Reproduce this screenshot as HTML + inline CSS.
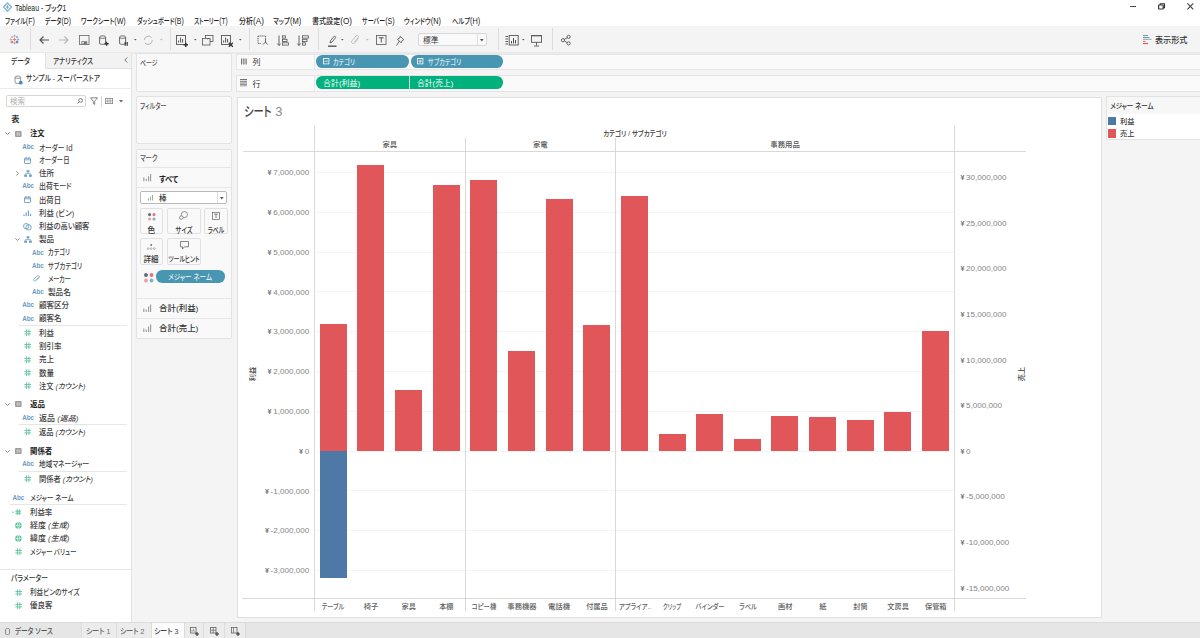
<!DOCTYPE html>
<html lang="ja"><head><meta charset="utf-8"><title>Tableau - ブック1</title>
<style>
html,body{margin:0;padding:0;}
body{width:1200px;height:638px;overflow:hidden;position:relative;background:#f4f4f4;font-family:"Liberation Sans", "Noto Sans CJK JP", sans-serif;font-feature-settings:"palt";}
.t{position:absolute;white-space:nowrap;}
svg{overflow:visible;}
</style></head><body>

<div style="position:absolute;left:0px;top:0px;width:1200px;height:26px;background:#ffffff;"></div>
<svg style="position:absolute;left:2px;top:2.2px;" width="10" height="10" viewBox="0 0 10 10"><path d="M0.5 9.6H9.5" stroke="#d0d8de" stroke-width="0.6"/><path d="M5.5 1L9.5 5L5.5 9L1.5 5Z" fill="none" stroke="#7fb2cc" stroke-width="1.3" stroke-linejoin="round"/><path d="M3.8 5H7.2M5.5 3.3V6.7" stroke="#6fa8c6" stroke-width="1"/></svg>
<div class="t" style="left:14.6px;top:3.07px;font-size:8.2px;line-height:11.48px;color:#222;font-weight:500;transform:scaleX(0.836);transform-origin:left center;">Tableau - ブック1</div>
<div style="position:absolute;left:1129.6px;top:6px;width:6.5px;height:1.2px;background:#444;"></div>
<svg style="position:absolute;left:1157.8px;top:3.2px;" width="7.2" height="6.6" viewBox="0 0 7.2 6.6"><rect x="0.6" y="2" width="4.6" height="4" rx="0.6" fill="none" stroke="#333" stroke-width="1.2"/><path d="M2.2 2V0.7H6.5V4.6H5.2" fill="none" stroke="#333" stroke-width="1.1"/></svg>
<svg style="position:absolute;left:1186.7px;top:3px;" width="6.7" height="6.7" viewBox="0 0 6.7 6.7"><path d="M0.4 0.4L6.3 6.3M6.3 0.4L0.4 6.3" stroke="#444" stroke-width="1.15"/></svg>
<div class="t" style="left:5.2px;top:15.98px;font-size:8px;line-height:11.2px;color:#222;font-weight:500;transform:scaleX(0.7526);transform-origin:left center;">ファイル<span style="font-size:9.3px">(F)</span></div>
<div class="t" style="left:45.4px;top:15.98px;font-size:8px;line-height:11.2px;color:#222;font-weight:500;transform:scaleX(0.7341);transform-origin:left center;">データ<span style="font-size:9.3px">(D)</span></div>
<div class="t" style="left:81.3px;top:15.98px;font-size:8px;line-height:11.2px;color:#222;font-weight:500;transform:scaleX(0.7629);transform-origin:left center;">ワークシート<span style="font-size:9.3px">(W)</span></div>
<div class="t" style="left:136.5px;top:15.98px;font-size:8px;line-height:11.2px;color:#222;font-weight:500;transform:scaleX(0.7533);transform-origin:left center;">ダッシュボード<span style="font-size:9.3px">(B)</span></div>
<div class="t" style="left:194.4px;top:15.98px;font-size:8px;line-height:11.2px;color:#222;font-weight:500;transform:scaleX(0.7067);transform-origin:left center;">ストーリー<span style="font-size:9.3px">(T)</span></div>
<div class="t" style="left:238.7px;top:15.98px;font-size:8px;line-height:11.2px;color:#222;font-weight:500;transform:scaleX(0.8766);transform-origin:left center;">分析<span style="font-size:9.3px">(A)</span></div>
<div class="t" style="left:273.3px;top:15.98px;font-size:8px;line-height:11.2px;color:#222;font-weight:500;transform:scaleX(0.8111);transform-origin:left center;">マップ<span style="font-size:9.3px">(M)</span></div>
<div class="t" style="left:312.3px;top:15.98px;font-size:8px;line-height:11.2px;color:#222;font-weight:500;transform:scaleX(0.8825);transform-origin:left center;">書式設定<span style="font-size:9.3px">(O)</span></div>
<div class="t" style="left:362.2px;top:15.98px;font-size:8px;line-height:11.2px;color:#222;font-weight:500;transform:scaleX(0.7523);transform-origin:left center;">サーバー<span style="font-size:9.3px">(S)</span></div>
<div class="t" style="left:404.4px;top:15.98px;font-size:8px;line-height:11.2px;color:#222;font-weight:500;transform:scaleX(0.7859);transform-origin:left center;">ウィンドウ<span style="font-size:9.3px">(N)</span></div>
<div class="t" style="left:452.1px;top:15.98px;font-size:8px;line-height:11.2px;color:#222;font-weight:500;transform:scaleX(0.7864);transform-origin:left center;">ヘルプ<span style="font-size:9.3px">(H)</span></div>
<div style="position:absolute;left:0px;top:26px;width:1200px;height:26px;background:#f4f4f4;"></div>
<div style="position:absolute;left:0px;top:52px;width:1200px;height:1.5px;background:#e9e9e9;"></div>
<div style="position:absolute;left:29.7px;top:28px;width:1px;height:22px;background:#dcdcdc;"></div>
<div style="position:absolute;left:169.5px;top:28px;width:1px;height:22px;background:#dcdcdc;"></div>
<div style="position:absolute;left:248.7px;top:28px;width:1px;height:22px;background:#dcdcdc;"></div>
<div style="position:absolute;left:317.5px;top:28px;width:1px;height:22px;background:#dcdcdc;"></div>
<div style="position:absolute;left:497.5px;top:28px;width:1px;height:22px;background:#dcdcdc;"></div>
<div style="position:absolute;left:551.7px;top:28px;width:1px;height:22px;background:#dcdcdc;"></div>
<svg style="position:absolute;left:10.3px;top:35px;" width="9" height="9" viewBox="0 0 9 9"><path d="M3.4 0.8H5.6M4.5 -0.30000000000000004V1.9000000000000001" stroke="#8fb0d0" stroke-width="0.9"/><path d="M3.4 8.2H5.6M4.5 7.1V9.299999999999999" stroke="#8fb0d0" stroke-width="0.9"/><path d="M-0.30000000000000004 4.5H1.9000000000000001M0.8 3.4V5.6" stroke="#9bb8d4" stroke-width="0.9"/><path d="M7.1 4.5H9.299999999999999M8.2 3.4V5.6" stroke="#8fb0d0" stroke-width="0.9"/><path d="M0.8 2H3.2M2 0.8V3.2" stroke="#f2a585" stroke-width="0.9"/><path d="M5.8 2H8.2M7 0.8V3.2" stroke="#7ea6cc" stroke-width="0.9"/><path d="M0.6000000000000001 7H3.4M2 5.6V8.4" stroke="#e2474f" stroke-width="0.9"/><path d="M5.6 7H8.4M7 5.6V8.4" stroke="#2f5f95" stroke-width="0.9"/><path d="M2.7 4.5H6.3M4.5 2.7V6.3" stroke="#e8727a" stroke-width="0.9"/></svg>
<svg style="position:absolute;left:38.75px;top:35.5px;" width="10" height="8" viewBox="0 0 10 8"><path d="M10 4H1M4.5 0.5L1 4L4.5 7.5" fill="none" stroke="#555" stroke-width="1.2"/></svg>
<svg style="position:absolute;left:58.75px;top:35.5px;" width="10" height="8" viewBox="0 0 10 8"><path d="M0 4H9M5.5 0.5L9 4L5.5 7.5" fill="none" stroke="#b5b5b5" stroke-width="1.1"/></svg>
<svg style="position:absolute;left:78.9px;top:35px;" width="10.5" height="10" viewBox="0 0 10.5 10"><rect x="0.5" y="0.5" width="9.5" height="9" fill="none" stroke="#777" stroke-width="0.9"/><rect x="2.4" y="6.2" width="5.8" height="3.3" fill="#777"/><rect x="3.2" y="7" width="1.5" height="1.5" fill="#fff"/></svg>
<svg style="position:absolute;left:99.4px;top:34.8px;" width="10" height="11" viewBox="0 0 10 11"><path d="M0.6 2.2C0.6 0.4 6.6 0.4 6.6 2.2V8.6C6.6 9.6 0.6 9.6 0.6 8.6Z" fill="none" stroke="#555" stroke-width="0.9"/><path d="M0.6 2.4C0.6 3.6 6.6 3.6 6.6 2.4" fill="none" stroke="#555" stroke-width="0.9"/><path d="M5.5 8.8H9.6M7.55 6.8V10.8" stroke="#333" stroke-width="1.4"/></svg>
<svg style="position:absolute;left:118.75px;top:34.8px;" width="10" height="11" viewBox="0 0 10 11"><path d="M0.6 2.2C0.6 0.4 6.6 0.4 6.6 2.2V8.6C6.6 9.6 0.6 9.6 0.6 8.6Z" fill="none" stroke="#555" stroke-width="0.9"/><path d="M0.6 2.4C0.6 3.6 6.6 3.6 6.6 2.4" fill="none" stroke="#555" stroke-width="0.9"/><path d="M6.2 7V10.8M8.2 7V10.8" stroke="#333" stroke-width="1.2"/></svg>
<svg style="position:absolute;left:134.29999999999998px;top:39.2px;" width="2.6" height="2" viewBox="0 0 2.6 2"><path d="M0 0H2.6L1.3 1.6Z" fill="#555"/></svg>
<svg style="position:absolute;left:142.5px;top:35px;" width="10.5" height="10.5" viewBox="0 0 10.5 10.5"><path d="M1.2 5.2A4.2 4.2 0 0 1 8.6 2.6M9.3 5.2A4.2 4.2 0 0 1 1.9 7.9" fill="none" stroke="#b5b5b5" stroke-width="1"/></svg>
<svg style="position:absolute;left:159.5px;top:39.2px;" width="2.6" height="2" viewBox="0 0 2.6 2"><path d="M0 0H2.6L1.3 1.6Z" fill="#b5b5b5"/></svg>
<svg style="position:absolute;left:176.3px;top:34.6px;" width="12.5" height="12" viewBox="0 0 12.5 12"><rect x="0.5" y="0.5" width="9" height="9" fill="none" stroke="#555" stroke-width="0.9"/><path d="M2.6 7.5V5.5M4.6 7.5V2.5M6.6 7.5V4" stroke="#555" stroke-width="1"/><path d="M7.5 9.8H12M9.75 7.6V12" stroke="#333" stroke-width="1.4"/></svg>
<svg style="position:absolute;left:193.7px;top:39.2px;" width="2.6" height="2" viewBox="0 0 2.6 2"><path d="M0 0H2.6L1.3 1.6Z" fill="#555"/></svg>
<svg style="position:absolute;left:202px;top:34.8px;" width="12" height="11" viewBox="0 0 12 11"><rect x="3.5" y="0.5" width="7.5" height="6" fill="#f3f3f3" stroke="#555" stroke-width="0.8"/><rect x="0.5" y="3.5" width="7.5" height="6.5" fill="#f3f3f3" stroke="#555" stroke-width="0.8"/><path d="M5.5 4.5L7 3L8.5 4.5" fill="none" stroke="#555" stroke-width="0.6"/></svg>
<svg style="position:absolute;left:221.2px;top:34.6px;" width="12.5" height="12" viewBox="0 0 12.5 12"><rect x="0.5" y="0.5" width="9" height="9" fill="none" stroke="#555" stroke-width="0.9"/><path d="M2.6 7.5V5.5M4.6 7.5V2.5M6.6 7.5V4" stroke="#555" stroke-width="1"/><path d="M7.8 7.8L11.8 11.8M11.8 7.8L7.8 11.8" stroke="#333" stroke-width="1.3"/></svg>
<svg style="position:absolute;left:238.7px;top:39.2px;" width="2.6" height="2" viewBox="0 0 2.6 2"><path d="M0 0H2.6L1.3 1.6Z" fill="#555"/></svg>
<svg style="position:absolute;left:256.7px;top:34.8px;" width="11" height="11" viewBox="0 0 11 11"><path d="M1 1H8.5V4M1 1V8.5H4" fill="none" stroke="#555" stroke-width="0.9" stroke-dasharray="1.2 0.6"/><path d="M6 9.5L8.5 7L10.5 9.5M8.5 7V4" fill="none" stroke="#555" stroke-width="0.9"/></svg>
<svg style="position:absolute;left:276.7px;top:34.6px;" width="12" height="11.5" viewBox="0 0 12 11.5"><path d="M2 0.5V10.5M0.3 8.5L2 10.5L3.7 8.5" fill="none" stroke="#555" stroke-width="0.9"/><rect x="5.5" y="0.8" width="3" height="2.3" fill="none" stroke="#555" stroke-width="0.8"/><rect x="5.5" y="4.3" width="4.5" height="2.3" fill="none" stroke="#555" stroke-width="0.8"/><rect x="5.5" y="7.8" width="6" height="2.3" fill="none" stroke="#555" stroke-width="0.8"/></svg>
<svg style="position:absolute;left:296.7px;top:34.6px;" width="12" height="11.5" viewBox="0 0 12 11.5"><path d="M2 0.5V10.5M0.3 8.5L2 10.5L3.7 8.5" fill="none" stroke="#555" stroke-width="0.9"/><rect x="5.5" y="0.8" width="6" height="2.3" fill="none" stroke="#555" stroke-width="0.8"/><rect x="5.5" y="4.3" width="4.5" height="2.3" fill="none" stroke="#555" stroke-width="0.8"/><rect x="5.5" y="7.8" width="3" height="2.3" fill="none" stroke="#555" stroke-width="0.8"/></svg>
<svg style="position:absolute;left:327.5px;top:34.5px;" width="9" height="12" viewBox="0 0 9 12"><path d="M2 8L2.6 5.6L6.4 1L7.9 2.3L4.1 6.9Z" fill="none" stroke="#555" stroke-width="0.9"/><path d="M0 11.2H8.5" stroke="#555" stroke-width="1.4"/></svg>
<svg style="position:absolute;left:341.2px;top:39.2px;" width="2.6" height="2" viewBox="0 0 2.6 2"><path d="M0 0H2.6L1.3 1.6Z" fill="#555"/></svg>
<svg style="position:absolute;left:350.8px;top:35px;" width="9" height="10" viewBox="0 0 9 10"><path d="M7.3 3.2L3.8 7.8C3 8.8 1.6 8.9 1 8.1C0.3 7.4 0.5 6.4 1.1 5.7L5 1C5.7 0.2 6.7 0.3 7.2 0.9C7.7 1.5 7.5 2.3 7 2.9L3.6 7.1" fill="none" stroke="#b5b5b5" stroke-width="0.9"/></svg>
<svg style="position:absolute;left:366.2px;top:39.2px;" width="2.6" height="2" viewBox="0 0 2.6 2"><path d="M0 0H2.6L1.3 1.6Z" fill="#b5b5b5"/></svg>
<svg style="position:absolute;left:376.3px;top:35px;" width="10.5" height="10" viewBox="0 0 10.5 10"><rect x="0.5" y="0.5" width="9.5" height="9" fill="none" stroke="#555" stroke-width="0.8"/><path d="M2.8 2.8H7.7M5.25 2.8V7.5" stroke="#555" stroke-width="1"/></svg>
<svg style="position:absolute;left:395.8px;top:34.6px;" width="9" height="11" viewBox="0 0 9 11"><path d="M4.2 1.2L7.8 4.8L6.5 5.2L5 7.8L1.5 4.2L4 2.8Z" fill="none" stroke="#555" stroke-width="0.9"/><path d="M3.2 6.2L0.6 10.5" stroke="#555" stroke-width="0.9"/></svg>
<div style="position:absolute;left:417.5px;top:33px;width:69.5px;height:13.3px;background:#fafafa;border:1px solid #d8d8d8;border-radius:2px;box-sizing:border-box;"></div>
<div class="t" style="left:422.5px;top:35.28px;font-size:8px;line-height:11.2px;color:#333;transform:scaleX(0.9688);transform-origin:left center;">標準</div>
<div style="position:absolute;left:476.5px;top:34px;width:0.8px;height:11.3px;background:#e0e0e0;"></div>
<svg style="position:absolute;left:480px;top:38.6px;" width="4" height="2.6" viewBox="0 0 4 2.6"><path d="M0 0H3.6L1.8 2.4Z" fill="#555"/></svg>
<svg style="position:absolute;left:505px;top:34.8px;" width="14" height="11" viewBox="0 0 14 11"><path d="M0.5 1.5H3M0.5 4H3M0.5 6.5H3M0.5 9H3" stroke="#555" stroke-width="1"/><rect x="4.2" y="0.5" width="9" height="9.5" fill="none" stroke="#555" stroke-width="0.9"/><path d="M6.5 8.5V6M8.5 8.5V3M10.5 8.5V5" stroke="#555" stroke-width="1"/></svg>
<svg style="position:absolute;left:521.5px;top:39.2px;" width="2.6" height="2" viewBox="0 0 2.6 2"><path d="M0 0H2.6L1.3 1.6Z" fill="#555"/></svg>
<svg style="position:absolute;left:531.3px;top:34.6px;" width="11" height="12" viewBox="0 0 11 12"><rect x="0.5" y="0.8" width="10" height="6.5" fill="none" stroke="#555" stroke-width="0.9"/><path d="M0 0.6H11M5.5 7.3V10.5M3 11H8" stroke="#555" stroke-width="0.9"/></svg>
<svg style="position:absolute;left:561.3px;top:35px;" width="10" height="10.5" viewBox="0 0 10 10.5"><circle cx="7.6" cy="1.9" r="1.6" fill="none" stroke="#555" stroke-width="0.9"/><circle cx="7.6" cy="8.4" r="1.6" fill="none" stroke="#555" stroke-width="0.9"/><circle cx="2" cy="5.2" r="1.6" fill="none" stroke="#555" stroke-width="0.9"/><path d="M3.4 4.4L6.2 2.7M3.4 6L6.2 7.6" stroke="#555" stroke-width="0.9"/></svg>
<svg style="position:absolute;left:1142.9px;top:35px;" width="9" height="10" viewBox="0 0 9 10"><path d="M0 0.6H5M0 2.6H6.5" stroke="#7a8d9f" stroke-width="1"/><path d="M0 4.4H8.5" stroke="#8fb7d8" stroke-width="1.1"/><path d="M0 6.4H2.5" stroke="#e8762b" stroke-width="1"/><path d="M0 8.5H5" stroke="#e15759" stroke-width="1.2"/></svg>
<div class="t" style="left:1155.4px;top:35.01px;font-size:8.5px;line-height:11.9px;color:#333;font-weight:500;transform:scaleX(0.9554);transform-origin:left center;">表示形式</div>
<div style="position:absolute;left:0px;top:53px;width:132px;height:568.5px;background:#fff;border-right:1px solid #e3e3e3;box-sizing:border-box;"></div>
<div style="position:absolute;left:45.4px;top:53px;width:85.6px;height:16px;background:#f2f2f2;border-left:1px solid #e0e0e0;border-bottom:1px solid #e0e0e0;box-sizing:border-box;"></div>
<div class="t" style="left:11.3px;top:56.48px;font-size:8px;line-height:11.2px;color:#333;font-weight:500;transform:scaleX(0.8492);transform-origin:left center;">データ</div>
<div class="t" style="left:52.9px;top:56.48px;font-size:8px;line-height:11.2px;color:#333;font-weight:500;transform:scaleX(0.8255);transform-origin:left center;">アナリティクス</div>
<svg style="position:absolute;left:123.5px;top:57.2px;" width="4" height="6" viewBox="0 0 4 6"><path d="M3.3 0.5L0.8 3L3.3 5.5" fill="none" stroke="#666" stroke-width="0.9"/></svg>
<svg style="position:absolute;left:14px;top:74.5px;" width="9" height="10" viewBox="0 0 9 10"><path d="M1 2.2C1 0.6 6.6 0.6 6.6 2.2V7.6C6.6 8.8 1 8.8 1 7.6Z" fill="#fff" stroke="#777" stroke-width="0.8"/><path d="M1 2.4C1 3.6 6.6 3.6 6.6 2.4" fill="none" stroke="#777" stroke-width="0.8"/><circle cx="6.8" cy="7.7" r="1.9" fill="#3d8fc4"/></svg>
<div class="t" style="left:26px;top:73.48px;font-size:8px;line-height:11.2px;color:#333;font-weight:500;transform:scaleX(0.8487);transform-origin:left center;">サンプル - スーパーストア</div>
<div style="position:absolute;left:0px;top:88px;width:131px;height:1px;background:#ececec;"></div>
<div style="position:absolute;left:5.6px;top:94.9px;width:80.7px;height:12.6px;background:#fff;border:1px solid #d6d6d6;border-radius:2px;box-sizing:border-box;"></div>
<div class="t" style="left:9.9px;top:97.15px;font-size:7.5px;line-height:10.5px;color:#b0b0b0;">検索</div>
<svg style="position:absolute;left:76.5px;top:97.8px;" width="6" height="6" viewBox="0 0 6 6"><circle cx="3.6" cy="2.4" r="1.9" fill="none" stroke="#666" stroke-width="0.8"/><path d="M2.3 3.7L0.5 5.5" stroke="#666" stroke-width="0.9"/></svg>
<svg style="position:absolute;left:89.5px;top:97px;" width="8" height="8" viewBox="0 0 8 8"><path d="M0.5 0.8H7.5L4.7 4.2V7.4L3.3 6.6V4.2Z" fill="none" stroke="#666" stroke-width="0.8"/></svg>
<div style="position:absolute;left:101px;top:95.5px;width:0.8px;height:11px;background:#d6d6d6;"></div>
<svg style="position:absolute;left:105px;top:98px;" width="8" height="6" viewBox="0 0 8 6"><rect x="0.4" y="0.4" width="7.2" height="5.2" fill="none" stroke="#888" stroke-width="0.8"/><path d="M2.8 0.4V5.6M5.2 0.4V5.6M0.4 3H7.6" stroke="#888" stroke-width="0.7"/></svg>
<svg style="position:absolute;left:118.5px;top:100px;" width="4" height="3" viewBox="0 0 4 3"><path d="M0 0H4L2 2.6Z" fill="#666"/></svg>
<div class="t" style="left:11.3px;top:113.77px;font-size:8.2px;line-height:11.48px;color:#333;font-weight:700;">表</div>
<svg style="position:absolute;left:4.7px;top:132.0px;" width="5" height="3" viewBox="0 0 5 3"><path d="M0.3 0.3L2.5 2.5L4.7 0.3" fill="none" stroke="#777" stroke-width="0.8"/></svg>
<svg style="position:absolute;left:15px;top:130.5px;" width="6.6" height="6" viewBox="0 0 6.6 6"><rect x="0" y="0" width="6.6" height="6" rx="1" fill="#999"/><path d="M0.8 2.2H5.8M0.8 3.9H5.8M2.4 0.8V5.2M4.2 0.8V5.2" stroke="#ddd" stroke-width="0.5"/></svg>
<div class="t" style="left:29.6px;top:129.2px;font-size:7.6px;line-height:10.64px;color:#222;font-weight:700;transform:scaleX(0.9613);transform-origin:left center;">注文</div>
<div class="t" style="left:22.3px;top:142.6px;font-size:6.3px;line-height:8px;color:#6c9cc2;font-weight:700;letter-spacing:-0.1px;font-family:Liberation Sans,sans-serif">Abc</div>
<div class="t" style="left:38.8px;top:142.5px;font-size:7.6px;line-height:10.64px;color:#404040;font-weight:500;transform:scaleX(0.872);transform-origin:left center;">オーダー <span style="font-size:9px">Id</span></div>
<svg style="position:absolute;left:24px;top:156.5px;" width="7" height="7" viewBox="0 0 7 7"><rect x="0.5" y="1.2" width="6" height="5.3" rx="0.6" fill="none" stroke="#6c9cc2" stroke-width="0.9"/><path d="M0.5 2.8H6.5M2 0V1.8M5 0V1.8" stroke="#6c9cc2" stroke-width="0.9"/></svg>
<div class="t" style="left:38.8px;top:155.8px;font-size:7.6px;line-height:10.64px;color:#404040;font-weight:500;transform:scaleX(0.8356);transform-origin:left center;">オーダー日</div>
<svg style="position:absolute;left:15.5px;top:170.79999999999998px;" width="3" height="5" viewBox="0 0 3 5"><path d="M0.3 0.3L2.5 2.4L0.3 4.5" fill="none" stroke="#777" stroke-width="0.8"/></svg>
<svg style="position:absolute;left:23.5px;top:169.6px;" width="8" height="7" viewBox="0 0 8 7"><rect x="2.6" y="0.3" width="2.8" height="2" fill="#6c9cc2"/><path d="M4 2.3V3.6M1.5 3.6H6.5M1.5 3.6V4.6M6.5 3.6V4.6" stroke="#6c9cc2" stroke-width="0.7"/><rect x="0.2" y="4.6" width="2.8" height="2.2" fill="#6c9cc2"/><rect x="5" y="4.6" width="2.8" height="2.2" fill="#6c9cc2"/></svg>
<div class="t" style="left:38.8px;top:169.0px;font-size:7.6px;line-height:10.64px;color:#404040;font-weight:500;transform:scaleX(0.9877);transform-origin:left center;">住所</div>
<div class="t" style="left:22.3px;top:182.4px;font-size:6.3px;line-height:8px;color:#6c9cc2;font-weight:700;letter-spacing:-0.1px;font-family:Liberation Sans,sans-serif">Abc</div>
<div class="t" style="left:38.8px;top:182.3px;font-size:7.6px;line-height:10.64px;color:#404040;font-weight:500;transform:scaleX(0.9079);transform-origin:left center;">出荷モード</div>
<svg style="position:absolute;left:24px;top:196.29999999999998px;" width="7" height="7" viewBox="0 0 7 7"><rect x="0.5" y="1.2" width="6" height="5.3" rx="0.6" fill="none" stroke="#6c9cc2" stroke-width="0.9"/><path d="M0.5 2.8H6.5M2 0V1.8M5 0V1.8" stroke="#6c9cc2" stroke-width="0.9"/></svg>
<div class="t" style="left:38.8px;top:195.6px;font-size:7.6px;line-height:10.64px;color:#404040;font-weight:500;transform:scaleX(0.9701);transform-origin:left center;">出荷日</div>
<svg style="position:absolute;left:22.8px;top:209.9px;" width="9" height="6" viewBox="0 0 9 6"><path d="M1 6V4.5M3.2 6V2.5M5.4 6V0.5M7.6 6V4" stroke="#6c9cc2" stroke-width="1.1"/></svg>
<div class="t" style="left:38.8px;top:208.8px;font-size:7.6px;line-height:10.64px;color:#404040;font-weight:500;transform:scaleX(0.9733);transform-origin:left center;">利益 (ビン)</div>
<svg style="position:absolute;left:23px;top:222.5px;" width="9" height="7.4" viewBox="0 0 9 7.4"><circle cx="3.2" cy="3.2" r="2.7" fill="none" stroke="#6c9cc2" stroke-width="0.9"/><circle cx="5.6" cy="4.4" r="2.7" fill="none" stroke="#6c9cc2" stroke-width="0.9"/></svg>
<div class="t" style="left:38.8px;top:222.0px;font-size:7.6px;line-height:10.64px;color:#404040;font-weight:500;transform:scaleX(0.9568);transform-origin:left center;">利益の高い顧客</div>
<svg style="position:absolute;left:14.7px;top:237.7px;" width="5" height="3" viewBox="0 0 5 3"><path d="M0.3 0.3L2.5 2.5L4.7 0.3" fill="none" stroke="#777" stroke-width="0.8"/></svg>
<svg style="position:absolute;left:23.5px;top:235.7px;" width="8" height="7" viewBox="0 0 8 7"><rect x="2.6" y="0.3" width="2.8" height="2" fill="#6c9cc2"/><path d="M4 2.3V3.6M1.5 3.6H6.5M1.5 3.6V4.6M6.5 3.6V4.6" stroke="#6c9cc2" stroke-width="0.7"/><rect x="0.2" y="4.6" width="2.8" height="2.2" fill="#6c9cc2"/><rect x="5" y="4.6" width="2.8" height="2.2" fill="#6c9cc2"/></svg>
<div class="t" style="left:38.8px;top:235.1px;font-size:7.6px;line-height:10.64px;color:#404040;font-weight:500;transform:scaleX(0.9942);transform-origin:left center;">製品</div>
<div class="t" style="left:32px;top:248.5px;font-size:6.3px;line-height:8px;color:#6c9cc2;font-weight:700;letter-spacing:-0.1px;font-family:Liberation Sans,sans-serif">Abc</div>
<div class="t" style="left:48.1px;top:248.4px;font-size:7.6px;line-height:10.64px;color:#404040;font-weight:500;transform:scaleX(0.811);transform-origin:left center;">カテゴリ</div>
<div class="t" style="left:32px;top:261.8px;font-size:6.3px;line-height:8px;color:#6c9cc2;font-weight:700;letter-spacing:-0.1px;font-family:Liberation Sans,sans-serif">Abc</div>
<div class="t" style="left:48.1px;top:261.7px;font-size:7.6px;line-height:10.64px;color:#404040;font-weight:500;transform:scaleX(0.8304);transform-origin:left center;">サブカテゴリ</div>
<svg style="position:absolute;left:33px;top:275.4px;" width="8" height="7.4" viewBox="0 0 8 7.4"><path d="M6.3 2.2L3 5.6C2.3 6.3 1.2 6.3 0.8 5.6C0.3 5 0.5 4.2 1 3.7L4.4 0.9C5 0.3 5.9 0.5 6.3 1C6.6 1.5 6.5 2.1 6 2.6L3.2 5" fill="none" stroke="#6c9cc2" stroke-width="0.8"/></svg>
<div class="t" style="left:48.1px;top:274.9px;font-size:7.6px;line-height:10.64px;color:#404040;font-weight:500;transform:scaleX(0.7961);transform-origin:left center;">メーカー</div>
<div class="t" style="left:32px;top:288.2px;font-size:6.3px;line-height:8px;color:#6c9cc2;font-weight:700;letter-spacing:-0.1px;font-family:Liberation Sans,sans-serif">Abc</div>
<div class="t" style="left:48.1px;top:288.1px;font-size:7.6px;line-height:10.64px;color:#404040;font-weight:500;transform:scaleX(1.0008);transform-origin:left center;">製品名</div>
<div class="t" style="left:22.3px;top:301.3px;font-size:6.3px;line-height:8px;color:#6c9cc2;font-weight:700;letter-spacing:-0.1px;font-family:Liberation Sans,sans-serif">Abc</div>
<div class="t" style="left:38.8px;top:301.2px;font-size:7.6px;line-height:10.64px;color:#404040;font-weight:500;transform:scaleX(0.9909);transform-origin:left center;">顧客区分</div>
<div class="t" style="left:22.3px;top:314.5px;font-size:6.3px;line-height:8px;color:#6c9cc2;font-weight:700;letter-spacing:-0.1px;font-family:Liberation Sans,sans-serif">Abc</div>
<div class="t" style="left:38.8px;top:314.4px;font-size:7.6px;line-height:10.64px;color:#404040;font-weight:500;transform:scaleX(0.992);transform-origin:left center;">顧客名</div>
<div style="position:absolute;left:18.8px;top:324.5px;width:108.2px;height:0.8px;background:#e6e6e6;"></div>
<svg style="position:absolute;left:24.0px;top:329.2px;" width="7.4" height="7.4" viewBox="0 0 7.4 7.4"><path d="M2.5 0.3V7.1M4.9 0.3V7.1M0.3 2.5H7.1M0.3 4.9H7.1" stroke="#55bf98" stroke-width="0.8"/></svg>
<div class="t" style="left:38.8px;top:328.7px;font-size:7.6px;line-height:10.64px;color:#404040;font-weight:500;transform:scaleX(0.9942);transform-origin:left center;">利益</div>
<svg style="position:absolute;left:24.0px;top:342.4px;" width="7.4" height="7.4" viewBox="0 0 7.4 7.4"><path d="M2.5 0.3V7.1M4.9 0.3V7.1M0.3 2.5H7.1M0.3 4.9H7.1" stroke="#55bf98" stroke-width="0.8"/></svg>
<div class="t" style="left:38.8px;top:341.9px;font-size:7.6px;line-height:10.64px;color:#404040;font-weight:500;transform:scaleX(0.992);transform-origin:left center;">割引率</div>
<svg style="position:absolute;left:24.0px;top:355.7px;" width="7.4" height="7.4" viewBox="0 0 7.4 7.4"><path d="M2.5 0.3V7.1M4.9 0.3V7.1M0.3 2.5H7.1M0.3 4.9H7.1" stroke="#55bf98" stroke-width="0.8"/></svg>
<div class="t" style="left:38.8px;top:355.2px;font-size:7.6px;line-height:10.64px;color:#404040;font-weight:500;transform:scaleX(0.9942);transform-origin:left center;">売上</div>
<svg style="position:absolute;left:24.0px;top:369.0px;" width="7.4" height="7.4" viewBox="0 0 7.4 7.4"><path d="M2.5 0.3V7.1M4.9 0.3V7.1M0.3 2.5H7.1M0.3 4.9H7.1" stroke="#55bf98" stroke-width="0.8"/></svg>
<div class="t" style="left:38.8px;top:368.5px;font-size:7.6px;line-height:10.64px;color:#404040;font-weight:500;transform:scaleX(0.9942);transform-origin:left center;">数量</div>
<svg style="position:absolute;left:24.0px;top:382.2px;" width="7.4" height="7.4" viewBox="0 0 7.4 7.4"><path d="M2.5 0.3V7.1M4.9 0.3V7.1M0.3 2.5H7.1M0.3 4.9H7.1" stroke="#55bf98" stroke-width="0.8"/></svg>
<div class="t" style="left:38.8px;top:381.7px;font-size:7.6px;line-height:10.64px;color:#404040;font-weight:500;transform:scaleX(0.95);transform-origin:left center;">注文 <i>(カウント)</i></div>
<svg style="position:absolute;left:4.7px;top:402.9px;" width="5" height="3" viewBox="0 0 5 3"><path d="M0.3 0.3L2.5 2.5L4.7 0.3" fill="none" stroke="#777" stroke-width="0.8"/></svg>
<svg style="position:absolute;left:15px;top:401.4px;" width="6.6" height="6" viewBox="0 0 6.6 6"><rect x="0" y="0" width="6.6" height="6" rx="1" fill="#999"/><path d="M0.8 2.2H5.8M0.8 3.9H5.8M2.4 0.8V5.2M4.2 0.8V5.2" stroke="#ddd" stroke-width="0.5"/></svg>
<div class="t" style="left:29.6px;top:400.2px;font-size:7.6px;line-height:10.64px;color:#222;font-weight:700;transform:scaleX(0.9877);transform-origin:left center;">返品</div>
<div class="t" style="left:22.3px;top:414px;font-size:6.3px;line-height:8px;color:#6c9cc2;font-weight:700;letter-spacing:-0.1px;font-family:Liberation Sans,sans-serif">Abc</div>
<div class="t" style="left:38.8px;top:413.9px;font-size:7.6px;line-height:10.64px;color:#404040;font-weight:500;transform:scaleX(1.0489);transform-origin:left center;">返品 <i>(返品)</i></div>
<div style="position:absolute;left:18.8px;top:424.3px;width:108.2px;height:0.8px;background:#e6e6e6;"></div>
<svg style="position:absolute;left:24.0px;top:428.4px;" width="7.4" height="7.4" viewBox="0 0 7.4 7.4"><path d="M2.5 0.3V7.1M4.9 0.3V7.1M0.3 2.5H7.1M0.3 4.9H7.1" stroke="#55bf98" stroke-width="0.8"/></svg>
<div class="t" style="left:38.8px;top:427.9px;font-size:7.6px;line-height:10.64px;color:#404040;font-weight:500;transform:scaleX(0.95);transform-origin:left center;">返品 <i>(カウント)</i></div>
<svg style="position:absolute;left:4.7px;top:449.5px;" width="5" height="3" viewBox="0 0 5 3"><path d="M0.3 0.3L2.5 2.5L4.7 0.3" fill="none" stroke="#777" stroke-width="0.8"/></svg>
<svg style="position:absolute;left:15px;top:448px;" width="6.6" height="6" viewBox="0 0 6.6 6"><rect x="0" y="0" width="6.6" height="6" rx="1" fill="#999"/><path d="M0.8 2.2H5.8M0.8 3.9H5.8M2.4 0.8V5.2M4.2 0.8V5.2" stroke="#ddd" stroke-width="0.5"/></svg>
<div class="t" style="left:29.6px;top:446.8px;font-size:7.6px;line-height:10.64px;color:#222;font-weight:700;transform:scaleX(0.9789);transform-origin:left center;">関係者</div>
<div class="t" style="left:22.3px;top:460.4px;font-size:6.3px;line-height:8px;color:#6c9cc2;font-weight:700;letter-spacing:-0.1px;font-family:Liberation Sans,sans-serif">Abc</div>
<div class="t" style="left:38.8px;top:460.3px;font-size:7.6px;line-height:10.64px;color:#404040;font-weight:500;transform:scaleX(0.8757);transform-origin:left center;">地域マネージャー</div>
<div style="position:absolute;left:18.8px;top:471.3px;width:108.2px;height:0.8px;background:#e6e6e6;"></div>
<svg style="position:absolute;left:24.0px;top:475.4px;" width="7.4" height="7.4" viewBox="0 0 7.4 7.4"><path d="M2.5 0.3V7.1M4.9 0.3V7.1M0.3 2.5H7.1M0.3 4.9H7.1" stroke="#55bf98" stroke-width="0.8"/></svg>
<div class="t" style="left:38.8px;top:474.9px;font-size:7.6px;line-height:10.64px;color:#404040;font-weight:500;transform:scaleX(0.955);transform-origin:left center;">関係者 <i>(カウント)</i></div>
<div class="t" style="left:12.5px;top:493.7px;font-size:6.3px;line-height:8px;color:#6c9cc2;font-weight:700;letter-spacing:-0.1px;font-family:Liberation Sans,sans-serif">Abc</div>
<div class="t" style="left:29.6px;top:493.6px;font-size:7.6px;line-height:10.64px;color:#404040;font-weight:500;transform:scaleX(0.8528);transform-origin:left center;">メジャー ネーム</div>
<div style="position:absolute;left:9.5px;top:503.8px;width:117.5px;height:0.8px;background:#e6e6e6;"></div>
<svg style="position:absolute;left:12px;top:508.8px;" width="9.5" height="6.4" viewBox="0 0 9.5 6.4"><path d="M0 3.2H2" stroke="#55bf98" stroke-width="0.8"/><path d="M5.2 0.3V6.1M7.2 0.3V6.1M3.3 2.2H9.1M3.3 4.2H9.1" stroke="#55bf98" stroke-width="0.9"/></svg>
<div class="t" style="left:29.6px;top:507.9px;font-size:7.6px;line-height:10.64px;color:#404040;font-weight:500;transform:scaleX(0.9789);transform-origin:left center;">利益率</div>
<svg style="position:absolute;left:14.6px;top:521.6px;" width="6.8" height="6.8" viewBox="0 0 6.8 6.8"><circle cx="3.4" cy="3.4" r="3.2" fill="#55bf98"/><path d="M0.4 3.4H6.4M3.4 0.3C1.8 2 1.8 4.8 3.4 6.5M3.4 0.3C5 2 5 4.8 3.4 6.5" fill="none" stroke="#fff" stroke-width="0.6"/></svg>
<div class="t" style="left:29.6px;top:520.8px;font-size:7.6px;line-height:10.64px;color:#404040;font-weight:500;transform:scaleX(1.0463);transform-origin:left center;">経度 <i>(生成)</i></div>
<svg style="position:absolute;left:14.6px;top:534.6px;" width="6.8" height="6.8" viewBox="0 0 6.8 6.8"><circle cx="3.4" cy="3.4" r="3.2" fill="#55bf98"/><path d="M0.4 3.4H6.4M3.4 0.3C1.8 2 1.8 4.8 3.4 6.5M3.4 0.3C5 2 5 4.8 3.4 6.5" fill="none" stroke="#fff" stroke-width="0.6"/></svg>
<div class="t" style="left:29.6px;top:533.8px;font-size:7.6px;line-height:10.64px;color:#404040;font-weight:500;transform:scaleX(1.0463);transform-origin:left center;">緯度 <i>(生成)</i></div>
<svg style="position:absolute;left:14.5px;top:548.0px;" width="7.4" height="7.4" viewBox="0 0 7.4 7.4"><path d="M2.5 0.3V7.1M4.9 0.3V7.1M0.3 2.5H7.1M0.3 4.9H7.1" stroke="#55bf98" stroke-width="0.8"/></svg>
<div class="t" style="left:29.6px;top:547.5px;font-size:7.6px;line-height:10.64px;color:#404040;font-weight:500;transform:scaleX(0.8156);transform-origin:left center;">メジャー バリュー</div>
<div style="position:absolute;left:0px;top:569.3px;width:131px;height:1px;background:#e6e6e6;"></div>
<div class="t" style="left:11.25px;top:574.4px;font-size:7.6px;line-height:10.64px;color:#333;font-weight:500;transform:scaleX(0.8818);transform-origin:left center;">パラメーター</div>
<svg style="position:absolute;left:14.7px;top:588.8px;" width="7.4" height="7.4" viewBox="0 0 7.4 7.4"><path d="M2.5 0.3V7.1M4.9 0.3V7.1M0.3 2.5H7.1M0.3 4.9H7.1" stroke="#55bf98" stroke-width="0.8"/></svg>
<div class="t" style="left:29.6px;top:588.3px;font-size:7.6px;line-height:10.64px;color:#404040;font-weight:500;transform:scaleX(0.8706);transform-origin:left center;">利益ビンのサイズ</div>
<svg style="position:absolute;left:14.7px;top:601.9px;" width="7.4" height="7.4" viewBox="0 0 7.4 7.4"><path d="M2.5 0.3V7.1M4.9 0.3V7.1M0.3 2.5H7.1M0.3 4.9H7.1" stroke="#55bf98" stroke-width="0.8"/></svg>
<div class="t" style="left:29.6px;top:601.4px;font-size:7.6px;line-height:10.64px;color:#404040;font-weight:500;transform:scaleX(0.9833);transform-origin:left center;">優良客</div>
<div style="position:absolute;left:135.5px;top:53.3px;width:96.8px;height:38.4px;background:#f9f9f9;border:1px solid #e3e3e3;border-radius:2px;box-sizing:border-box;"></div>
<div class="t" style="left:140px;top:58.9px;font-size:7.6px;line-height:10.64px;color:#555;font-weight:500;transform:scaleX(0.7778);transform-origin:left center;">ページ</div>
<div style="position:absolute;left:135.5px;top:95.7px;width:96.8px;height:48.5px;background:#f9f9f9;border:1px solid #e3e3e3;border-radius:2px;box-sizing:border-box;"></div>
<div class="t" style="left:140px;top:102.2px;font-size:7.6px;line-height:10.64px;color:#555;font-weight:500;transform:scaleX(0.7966);transform-origin:left center;">フィルター</div>
<div style="position:absolute;left:135.5px;top:148.6px;width:96.8px;height:190px;background:#f9f9f9;border:1px solid #e3e3e3;border-radius:2px;box-sizing:border-box;"></div>
<div class="t" style="left:140px;top:154.2px;font-size:7.6px;line-height:10.64px;color:#555;font-weight:500;transform:scaleX(0.8296);transform-origin:left center;">マーク</div>
<div style="position:absolute;left:136.5px;top:167px;width:94.8px;height:0.8px;background:#e6e6e6;"></div>
<svg style="position:absolute;left:143.2px;top:173.8px;" width="8" height="7.2" viewBox="0 0 8 7.2"><path d="M0.8 7.2V3.5M3.2 7.2V4.8M5.6 7.2V2.2M7.6 7.2V0" stroke="#999" stroke-width="1.1"/></svg>
<div class="t" style="left:159.1px;top:173.68px;font-size:8px;line-height:11.2px;color:#222;font-weight:700;transform:scaleX(0.9116);transform-origin:left center;">すべて</div>
<div style="position:absolute;left:136.5px;top:186.8px;width:94.8px;height:0.8px;background:#e6e6e6;"></div>
<div style="position:absolute;left:140.2px;top:191.3px;width:87.1px;height:12.5px;background:#fff;border:1px solid #b9b9b9;border-radius:2px;box-sizing:border-box;"></div>
<svg style="position:absolute;left:148.3px;top:194.7px;" width="5.4" height="5.5" viewBox="0 0 5.4 5.5"><path d="M0.6 5.5V3M2.6 5.5V1.5M4.6 5.5V0" stroke="#999" stroke-width="0.9"/></svg>
<div class="t" style="left:159.1px;top:193.5px;font-size:7.6px;line-height:10.64px;color:#333;font-weight:500;">棒</div>
<div style="position:absolute;left:217px;top:192.3px;width:0.8px;height:10.5px;background:#dedede;"></div>
<svg style="position:absolute;left:219.9px;top:196.6px;" width="4" height="2.6" viewBox="0 0 4 2.6"><path d="M0 0H3.6L1.8 2.4Z" fill="#555"/></svg>
<div style="position:absolute;left:140px;top:208px;width:22.599999999999994px;height:26.4px;background:#f9f9f9;border:1px solid #e1e1e1;border-radius:2px;box-sizing:border-box;"></div>
<div style="position:absolute;left:167px;top:208px;width:33.69999999999999px;height:26.4px;background:#f9f9f9;border:1px solid #e1e1e1;border-radius:2px;box-sizing:border-box;"></div>
<div style="position:absolute;left:204.4px;top:208px;width:23.299999999999983px;height:26.4px;background:#f9f9f9;border:1px solid #e1e1e1;border-radius:2px;box-sizing:border-box;"></div>
<div style="position:absolute;left:140px;top:237.6px;width:22.599999999999994px;height:27.1px;background:#f9f9f9;border:1px solid #e1e1e1;border-radius:2px;box-sizing:border-box;"></div>
<div style="position:absolute;left:167px;top:237.6px;width:33.69999999999999px;height:27.1px;background:#f9f9f9;border:1px solid #e1e1e1;border-radius:2px;box-sizing:border-box;"></div>
<svg style="position:absolute;left:147.6px;top:212.5px" width="7.5" height="7.5" viewBox="0 0 7.5 7.5"><circle cx="1.6" cy="1.6" r="1.55" fill="#5d6b7c"/><circle cx="6" cy="1.6" r="1.55" fill="#e8737a"/><circle cx="1.6" cy="6" r="1.55" fill="#ee9c9c"/><circle cx="6" cy="6" r="1.55" fill="#7eb2cd"/></svg>
<div class="t" style="left:-48.7px;width:400px;text-align:center;top:226.0px;font-size:7.6px;line-height:10.64px;color:#333;font-weight:500;">色</div>
<svg style="position:absolute;left:179.2px;top:211.2px;" width="9" height="9" viewBox="0 0 9 9"><circle cx="5.4" cy="3.6" r="3.1" fill="none" stroke="#777" stroke-width="0.8"/><circle cx="2.3" cy="6.6" r="1.8" fill="#f9f9f9" stroke="#777" stroke-width="0.8"/></svg>
<div class="t" style="left:-16.15px;width:400px;text-align:center;top:226.0px;font-size:7.6px;line-height:10.64px;color:#333;font-weight:500;transform:scaleX(0.823);transform-origin:center center;">サイズ</div>
<svg style="position:absolute;left:212px;top:211.5px;" width="8" height="8" viewBox="0 0 8 8"><rect x="0.4" y="0.4" width="7.2" height="7.2" fill="none" stroke="#666" stroke-width="0.7"/><path d="M2.2 2.2H5.8M4 2.2V6" stroke="#666" stroke-width="0.8"/></svg>
<div class="t" style="left:16.05px;width:400px;text-align:center;top:226.0px;font-size:7.6px;line-height:10.64px;color:#333;font-weight:500;transform:scaleX(0.7708);transform-origin:center center;">ラベル</div>
<svg style="position:absolute;left:147.2px;top:243.5px;" width="8.4" height="6" viewBox="0 0 8.4 6"><circle cx="4.2" cy="0.9" r="0.9" fill="#666"/><circle cx="1.1" cy="4.6" r="0.85" fill="none" stroke="#888" stroke-width="0.6"/><circle cx="4.2" cy="4.6" r="0.85" fill="none" stroke="#888" stroke-width="0.6"/><circle cx="7.3" cy="4.6" r="0.85" fill="none" stroke="#888" stroke-width="0.6"/></svg>
<div class="t" style="left:-48.7px;width:400px;text-align:center;top:255.3px;font-size:7.6px;line-height:10.64px;color:#333;font-weight:500;transform:scaleX(0.9877);transform-origin:center center;">詳細</div>
<svg style="position:absolute;left:179.5px;top:241px;" width="9" height="9" viewBox="0 0 9 9"><path d="M0.5 0.5H8.5V5.8H4.5L2.5 8V5.8H0.5Z" fill="none" stroke="#666" stroke-width="0.8"/></svg>
<div class="t" style="left:-16.15px;width:400px;text-align:center;top:255.3px;font-size:7.6px;line-height:10.64px;color:#333;font-weight:500;transform:scaleX(0.7561);transform-origin:center center;">ツールヒント</div>
<svg style="position:absolute;left:143.8px;top:272.8px" width="9.375" height="9.375" viewBox="0 0 7.5 7.5"><circle cx="1.6" cy="1.6" r="1.55" fill="#5d6b7c"/><circle cx="6" cy="1.6" r="1.55" fill="#e8737a"/><circle cx="1.6" cy="6" r="1.55" fill="#ee9c9c"/><circle cx="6" cy="6" r="1.55" fill="#7eb2cd"/></svg>
<div style="position:absolute;left:155.8px;top:270.2px;width:69.7px;height:12.5px;background:#4996b2;border-radius:6.25px;"></div>
<div class="t" style="left:167.6px;top:272.5px;font-size:7.6px;line-height:10.64px;color:#fff;transform:scaleX(0.8606);transform-origin:left center;">メジャー ネーム</div>
<div style="position:absolute;left:136.5px;top:297.5px;width:94.8px;height:0.8px;background:#e6e6e6;"></div>
<svg style="position:absolute;left:143px;top:303.8px;" width="8.3" height="8" viewBox="0 0 8.3 8"><path d="M0.8 8V4.5M3.2 8V5.5M5.6 8V2.5M7.6 8V0.5" stroke="#999" stroke-width="1.1"/></svg>
<div class="t" style="left:158.8px;top:304.39px;font-size:7.8px;line-height:10.92px;color:#333;font-weight:500;transform:scaleX(1.0827);transform-origin:left center;">合計(利益)</div>
<div style="position:absolute;left:136.5px;top:317.6px;width:94.8px;height:0.8px;background:#e6e6e6;"></div>
<svg style="position:absolute;left:143px;top:323.8px;" width="8.3" height="8" viewBox="0 0 8.3 8"><path d="M0.8 8V4.5M3.2 8V5.5M5.6 8V2.5M7.6 8V0.5" stroke="#999" stroke-width="1.1"/></svg>
<div class="t" style="left:158.8px;top:324.39px;font-size:7.8px;line-height:10.92px;color:#333;font-weight:500;transform:scaleX(1.0827);transform-origin:left center;">合計(売上)</div>
<div style="position:absolute;left:236px;top:53.5px;width:964px;height:16px;background:#fafafa;border:1px solid #e6e6e6;border-right:none;box-sizing:border-box;"></div>
<div style="position:absolute;left:236px;top:74.5px;width:964px;height:17px;background:#fafafa;border:1px solid #e4e4e4;border-right:none;box-sizing:border-box;"></div>
<div style="position:absolute;left:314px;top:54px;width:1px;height:15px;background:#e6e6e6;"></div>
<div style="position:absolute;left:314px;top:75px;width:1px;height:16px;background:#e6e6e6;"></div>
<svg style="position:absolute;left:240.5px;top:58px;" width="6" height="7" viewBox="0 0 6 7"><path d="M0.7 0.5V6.5M2.9 0.5V6.5M5.1 0.5V6.5" stroke="#555" stroke-width="1"/></svg>
<div class="t" style="left:252.5px;top:57.38px;font-size:8px;line-height:11.2px;color:#333;">列</div>
<svg style="position:absolute;left:240px;top:79px;" width="7" height="7" viewBox="0 0 7 7"><path d="M0 0.7H7M0 2.9H7M0 5.1H7" stroke="#555" stroke-width="1"/><path d="M0 6.8H7" stroke="#555" stroke-width="0.6"/></svg>
<div class="t" style="left:252.5px;top:78.68px;font-size:8px;line-height:11.2px;color:#333;">行</div>
<div style="position:absolute;left:316.3px;top:55.1px;width:92.7px;height:12.6px;background:#4996b2;border-radius:6.3px 6.3px 6.3px 6.3px;"></div>
<svg style="position:absolute;left:322.8px;top:58.199999999999996px" width="6.4" height="6.4" viewBox="0 0 6.4 6.4"><rect x="0.5" y="0.5" width="5.4" height="5.4" fill="none" stroke="#fff" stroke-width="0.8"/><path d="M1.6 3.2H4.8" stroke="#fff" stroke-width="0.8"/></svg>
<div class="t" style="left:333.3px;top:57.65px;font-size:7.5px;line-height:10.5px;color:#fff;transform:scaleX(0.8098);transform-origin:left center;">カテゴリ</div>
<div style="position:absolute;left:410.8px;top:55.1px;width:92.2px;height:12.6px;background:#4996b2;border-radius:6.3px 6.3px 6.3px 6.3px;"></div>
<svg style="position:absolute;left:417.3px;top:58.199999999999996px" width="6.4" height="6.4" viewBox="0 0 6.4 6.4"><rect x="0.5" y="0.5" width="5.4" height="5.4" fill="none" stroke="#fff" stroke-width="0.8"/><path d="M1.6 3.2H4.8 M3.2 1.6V4.8" stroke="#fff" stroke-width="0.8"/></svg>
<div class="t" style="left:427.8px;top:57.65px;font-size:7.5px;line-height:10.5px;color:#fff;transform:scaleX(0.816);transform-origin:left center;">サブカテゴリ</div>
<div style="position:absolute;left:316.3px;top:76.4px;width:93.2px;height:12.6px;background:#00b07d;border-radius:6.3px 0px 0px 6.3px;"></div>
<div class="t" style="left:323.3px;top:78.95px;font-size:7.5px;line-height:10.5px;color:#fff;transform:scaleX(1.0629);transform-origin:left center;">合計(利益)</div>
<div style="position:absolute;left:409.5px;top:76.4px;width:93.5px;height:12.6px;background:#00b07d;border-radius:0px 6.3px 6.3px 0px;"></div>
<div class="t" style="left:416.5px;top:78.95px;font-size:7.5px;line-height:10.5px;color:#fff;transform:scaleX(1.0371);transform-origin:left center;">合計(売上)</div>
<div style="position:absolute;left:409.4px;top:77px;width:0.8px;height:11.5px;border-left:1px dotted #9fdcc8;"></div>
<div style="position:absolute;left:237px;top:96.5px;width:864.5px;height:521.3px;background:#fff;border:1px solid #e0e0e0;box-sizing:border-box;"></div>
<div class="t" style="left:244px;top:103.46px;font-size:13.5px;line-height:18px;color:#444;font-weight:500;transform:scaleX(0.7596);transform-origin:left center;">シート</div>
<div class="t" style="left:275.2px;top:103.9px;font-size:12.8px;line-height:16px;color:#8a8a8a;">3</div>
<div style="position:absolute;left:314.6px;top:569.9px;width:640.0px;height:1px;background:#f4f4f4;"></div>
<div style="position:absolute;left:314.6px;top:530.1px;width:640.0px;height:1px;background:#f4f4f4;"></div>
<div style="position:absolute;left:314.6px;top:490.3px;width:640.0px;height:1px;background:#f4f4f4;"></div>
<div style="position:absolute;left:314.6px;top:450.5px;width:640.0px;height:1px;background:#f4f4f4;"></div>
<div style="position:absolute;left:314.6px;top:410.7px;width:640.0px;height:1px;background:#f4f4f4;"></div>
<div style="position:absolute;left:314.6px;top:370.9px;width:640.0px;height:1px;background:#f4f4f4;"></div>
<div style="position:absolute;left:314.6px;top:331.1px;width:640.0px;height:1px;background:#f4f4f4;"></div>
<div style="position:absolute;left:314.6px;top:291.3px;width:640.0px;height:1px;background:#f4f4f4;"></div>
<div style="position:absolute;left:314.6px;top:251.5px;width:640.0px;height:1px;background:#f4f4f4;"></div>
<div style="position:absolute;left:314.6px;top:211.7px;width:640.0px;height:1px;background:#f4f4f4;"></div>
<div style="position:absolute;left:314.6px;top:171.9px;width:640.0px;height:1px;background:#f4f4f4;"></div>
<div style="position:absolute;left:242.6px;top:150.7px;width:783.1px;height:1px;background:#d9d9d9;"></div>
<div style="position:absolute;left:242.3px;top:598.4px;width:783.4000000000001px;height:1px;background:#d9d9d9;"></div>
<div style="position:absolute;left:314.1px;top:125.5px;width:1px;height:485.5px;background:#d9d9d9;"></div>
<div style="position:absolute;left:954.1px;top:126.3px;width:1px;height:484.7px;background:#d9d9d9;"></div>
<div style="position:absolute;left:464.6px;top:138px;width:1px;height:473px;background:#d9d9d9;"></div>
<div style="position:absolute;left:615.0px;top:138px;width:1px;height:473px;background:#d9d9d9;"></div>
<div class="t" style="left:434.5px;width:400px;text-align:center;top:128.91px;font-size:7.2px;line-height:10.08px;color:#3a3a3a;font-weight:500;transform:scaleX(0.9032);transform-origin:center center;">カテゴリ / サブカテゴリ</div>
<div class="t" style="left:189.85px;width:400px;text-align:center;top:139.7px;font-size:7.4px;line-height:10.36px;color:#555;font-weight:500;">家具</div>
<div class="t" style="left:340.3px;width:400px;text-align:center;top:139.7px;font-size:7.4px;line-height:10.36px;color:#555;font-weight:500;">家電</div>
<div class="t" style="left:585.05px;width:400px;text-align:center;top:139.7px;font-size:7.4px;line-height:10.36px;color:#555;font-weight:500;">事務用品</div>
<div class="t" style="right:890.8px;text-align:right;top:565.23px;font-size:8.1px;line-height:11.34px;color:#858585;"><span style="font-size:7.2px;font-weight:700;color:#777;margin-right:1.6px">¥</span>-3,000,000</div>
<div class="t" style="right:890.8px;text-align:right;top:525.43px;font-size:8.1px;line-height:11.34px;color:#858585;"><span style="font-size:7.2px;font-weight:700;color:#777;margin-right:1.6px">¥</span>-2,000,000</div>
<div class="t" style="right:890.8px;text-align:right;top:485.63px;font-size:8.1px;line-height:11.34px;color:#858585;"><span style="font-size:7.2px;font-weight:700;color:#777;margin-right:1.6px">¥</span>-1,000,000</div>
<div class="t" style="right:890.8px;text-align:right;top:445.83px;font-size:8.1px;line-height:11.34px;color:#858585;"><span style="font-size:7.2px;font-weight:700;color:#777;margin-right:1.6px">¥</span>0</div>
<div class="t" style="right:890.8px;text-align:right;top:406.03px;font-size:8.1px;line-height:11.34px;color:#858585;"><span style="font-size:7.2px;font-weight:700;color:#777;margin-right:1.6px">¥</span>1,000,000</div>
<div class="t" style="right:890.8px;text-align:right;top:366.23px;font-size:8.1px;line-height:11.34px;color:#858585;"><span style="font-size:7.2px;font-weight:700;color:#777;margin-right:1.6px">¥</span>2,000,000</div>
<div class="t" style="right:890.8px;text-align:right;top:326.43px;font-size:8.1px;line-height:11.34px;color:#858585;"><span style="font-size:7.2px;font-weight:700;color:#777;margin-right:1.6px">¥</span>3,000,000</div>
<div class="t" style="right:890.8px;text-align:right;top:286.63px;font-size:8.1px;line-height:11.34px;color:#858585;"><span style="font-size:7.2px;font-weight:700;color:#777;margin-right:1.6px">¥</span>4,000,000</div>
<div class="t" style="right:890.8px;text-align:right;top:246.83px;font-size:8.1px;line-height:11.34px;color:#858585;"><span style="font-size:7.2px;font-weight:700;color:#777;margin-right:1.6px">¥</span>5,000,000</div>
<div class="t" style="right:890.8px;text-align:right;top:207.03px;font-size:8.1px;line-height:11.34px;color:#858585;"><span style="font-size:7.2px;font-weight:700;color:#777;margin-right:1.6px">¥</span>6,000,000</div>
<div class="t" style="right:890.8px;text-align:right;top:167.23px;font-size:8.1px;line-height:11.34px;color:#858585;"><span style="font-size:7.2px;font-weight:700;color:#777;margin-right:1.6px">¥</span>7,000,000</div>
<div class="t" style="left:960.5px;top:582.63px;font-size:8.1px;line-height:11.34px;color:#858585;"><span style="font-size:7.2px;font-weight:700;color:#777;margin-right:1.6px">¥</span>-15,000,000</div>
<div class="t" style="left:960.5px;top:537.03px;font-size:8.1px;line-height:11.34px;color:#858585;"><span style="font-size:7.2px;font-weight:700;color:#777;margin-right:1.6px">¥</span>-10,000,000</div>
<div class="t" style="left:960.5px;top:491.43px;font-size:8.1px;line-height:11.34px;color:#858585;"><span style="font-size:7.2px;font-weight:700;color:#777;margin-right:1.6px">¥</span>-5,000,000</div>
<div class="t" style="left:960.5px;top:445.83px;font-size:8.1px;line-height:11.34px;color:#858585;"><span style="font-size:7.2px;font-weight:700;color:#777;margin-right:1.6px">¥</span>0</div>
<div class="t" style="left:960.5px;top:400.23px;font-size:8.1px;line-height:11.34px;color:#858585;"><span style="font-size:7.2px;font-weight:700;color:#777;margin-right:1.6px">¥</span>5,000,000</div>
<div class="t" style="left:960.5px;top:354.63px;font-size:8.1px;line-height:11.34px;color:#858585;"><span style="font-size:7.2px;font-weight:700;color:#777;margin-right:1.6px">¥</span>10,000,000</div>
<div class="t" style="left:960.5px;top:309.03px;font-size:8.1px;line-height:11.34px;color:#858585;"><span style="font-size:7.2px;font-weight:700;color:#777;margin-right:1.6px">¥</span>15,000,000</div>
<div class="t" style="left:960.5px;top:263.43px;font-size:8.1px;line-height:11.34px;color:#858585;"><span style="font-size:7.2px;font-weight:700;color:#777;margin-right:1.6px">¥</span>20,000,000</div>
<div class="t" style="left:960.5px;top:217.83px;font-size:8.1px;line-height:11.34px;color:#858585;"><span style="font-size:7.2px;font-weight:700;color:#777;margin-right:1.6px">¥</span>25,000,000</div>
<div class="t" style="left:960.5px;top:172.23px;font-size:8.1px;line-height:11.34px;color:#858585;"><span style="font-size:7.2px;font-weight:700;color:#777;margin-right:1.6px">¥</span>30,000,000</div>
<div class="t" style="left:53.2px;width:400px;text-align:center;top:368.51px;font-size:7.2px;line-height:10.08px;color:#444;font-weight:500;transform:rotate(-90deg);">利益</div>
<div class="t" style="left:822px;width:400px;text-align:center;top:368.71px;font-size:7.2px;line-height:10.08px;color:#444;font-weight:500;transform:rotate(-90deg);">売上</div>
<div style="position:absolute;left:319.7px;top:451.0px;width:27px;height:126.79999999999995px;background:#4e79a7;"></div>
<div style="position:absolute;left:319.7px;top:324px;width:27px;height:127.0px;background:#e15759;"></div>
<div class="t" style="left:133.42px;width:400px;text-align:center;top:601.91px;font-size:7.2px;line-height:10.08px;color:#606060;font-weight:500;transform:scaleX(0.8625);transform-origin:center center;">テーブル</div>
<div style="position:absolute;left:357.35px;top:165px;width:27px;height:286.0px;background:#e15759;"></div>
<div class="t" style="left:171.07px;width:400px;text-align:center;top:601.91px;font-size:7.2px;line-height:10.08px;color:#606060;font-weight:500;">椅子</div>
<div style="position:absolute;left:394.99px;top:389.6px;width:27px;height:61.4px;background:#e15759;"></div>
<div class="t" style="left:208.72px;width:400px;text-align:center;top:601.91px;font-size:7.2px;line-height:10.08px;color:#606060;font-weight:500;">家具</div>
<div style="position:absolute;left:432.64px;top:185.4px;width:27px;height:265.6px;background:#e15759;"></div>
<div class="t" style="left:246.36px;width:400px;text-align:center;top:601.91px;font-size:7.2px;line-height:10.08px;color:#606060;font-weight:500;">本棚</div>
<div style="position:absolute;left:470.29px;top:179.7px;width:27px;height:271.3px;background:#e15759;"></div>
<div class="t" style="left:284.01px;width:400px;text-align:center;top:601.91px;font-size:7.2px;line-height:10.08px;color:#606060;font-weight:500;transform:scaleX(0.8886);transform-origin:center center;">コピー機</div>
<div style="position:absolute;left:507.94px;top:350.7px;width:27px;height:100.3px;background:#e15759;"></div>
<div class="t" style="left:321.66px;width:400px;text-align:center;top:601.91px;font-size:7.2px;line-height:10.08px;color:#606060;font-weight:500;transform:scaleX(1.0221);transform-origin:center center;">事務機器</div>
<div style="position:absolute;left:545.58px;top:198.7px;width:27px;height:252.3px;background:#e15759;"></div>
<div class="t" style="left:359.31px;width:400px;text-align:center;top:601.91px;font-size:7.2px;line-height:10.08px;color:#606060;font-weight:500;transform:scaleX(1.0196);transform-origin:center center;">電話機</div>
<div style="position:absolute;left:583.23px;top:325px;width:27px;height:126.0px;background:#e15759;"></div>
<div class="t" style="left:396.95px;width:400px;text-align:center;top:601.91px;font-size:7.2px;line-height:10.08px;color:#606060;font-weight:500;transform:scaleX(1.0056);transform-origin:center center;">付属品</div>
<div style="position:absolute;left:620.88px;top:196px;width:27px;height:255.0px;background:#e15759;"></div>
<div class="t" style="left:434.6px;width:400px;text-align:center;top:601.91px;font-size:7.2px;line-height:10.08px;color:#606060;font-weight:500;transform:scaleX(0.8729);transform-origin:center center;">アプライア..</div>
<div style="position:absolute;left:658.52px;top:433.7px;width:27px;height:17.3px;background:#e15759;"></div>
<div class="t" style="left:472.25px;width:400px;text-align:center;top:601.91px;font-size:7.2px;line-height:10.08px;color:#606060;font-weight:500;transform:scaleX(0.7477);transform-origin:center center;">クリップ</div>
<div style="position:absolute;left:696.17px;top:413.7px;width:27px;height:37.3px;background:#e15759;"></div>
<div class="t" style="left:509.89px;width:400px;text-align:center;top:601.91px;font-size:7.2px;line-height:10.08px;color:#606060;font-weight:500;transform:scaleX(0.8746);transform-origin:center center;">バインダー</div>
<div style="position:absolute;left:733.82px;top:439.4px;width:27px;height:11.6px;background:#e15759;"></div>
<div class="t" style="left:547.54px;width:400px;text-align:center;top:601.91px;font-size:7.2px;line-height:10.08px;color:#606060;font-weight:500;transform:scaleX(0.8734);transform-origin:center center;">ラベル</div>
<div style="position:absolute;left:771.46px;top:416.2px;width:27px;height:34.8px;background:#e15759;"></div>
<div class="t" style="left:585.19px;width:400px;text-align:center;top:601.91px;font-size:7.2px;line-height:10.08px;color:#606060;font-weight:500;">画材</div>
<div style="position:absolute;left:809.11px;top:417.3px;width:27px;height:33.7px;background:#e15759;"></div>
<div class="t" style="left:622.84px;width:400px;text-align:center;top:601.91px;font-size:7.2px;line-height:10.08px;color:#606060;font-weight:500;">紙</div>
<div style="position:absolute;left:846.76px;top:420px;width:27px;height:31.0px;background:#e15759;"></div>
<div class="t" style="left:660.48px;width:400px;text-align:center;top:601.91px;font-size:7.2px;line-height:10.08px;color:#606060;font-weight:500;">封筒</div>
<div style="position:absolute;left:884.41px;top:412.3px;width:27px;height:38.7px;background:#e15759;"></div>
<div class="t" style="left:698.13px;width:400px;text-align:center;top:601.91px;font-size:7.2px;line-height:10.08px;color:#606060;font-weight:500;">文房具</div>
<div style="position:absolute;left:922.05px;top:330.7px;width:27px;height:120.3px;background:#e15759;"></div>
<div class="t" style="left:735.78px;width:400px;text-align:center;top:601.91px;font-size:7.2px;line-height:10.08px;color:#606060;font-weight:500;">保管箱</div>
<div style="position:absolute;left:1105.5px;top:96px;width:94.5px;height:44px;background:#fff;border:1px solid #e3e3e3;border-right:none;box-sizing:border-box;"></div>
<div style="position:absolute;left:1106.5px;top:97px;width:93.5px;height:17px;background:#f7f7f7;"></div>
<div class="t" style="left:1109.7px;top:102.45px;font-size:7.5px;line-height:10.5px;color:#333;font-weight:500;transform:scaleX(0.8614);transform-origin:left center;">メジャー ネーム</div>
<div style="position:absolute;left:1107.7px;top:116.5px;width:8.8px;height:8.7px;background:#4e79a7;"></div>
<div style="position:absolute;left:1107.7px;top:129px;width:8.8px;height:8.7px;background:#e15759;"></div>
<div class="t" style="left:1120px;top:117.11px;font-size:7.2px;line-height:10.08px;color:#333;font-weight:500;">利益</div>
<div class="t" style="left:1120px;top:129.41px;font-size:7.2px;line-height:10.08px;color:#333;font-weight:500;">売上</div>
<div style="position:absolute;left:0px;top:621.5px;width:1200px;height:16.5px;background:#e6e6e6;border-top:1px solid #dcdcdc;box-sizing:border-box;"></div>
<svg style="position:absolute;left:5.4px;top:627.5px;" width="5" height="7" viewBox="0 0 5 7"><path d="M0.5 1.2C0.5 0.2 4.5 0.2 4.5 1.2V5.8C4.5 6.8 0.5 6.8 0.5 5.8Z" fill="none" stroke="#777" stroke-width="0.8"/></svg>
<div class="t" style="left:15.2px;top:626.28px;font-size:8px;line-height:11.2px;color:#555;font-weight:500;transform:scaleX(0.824);transform-origin:left center;">データ ソース</div>
<div style="position:absolute;left:81.3px;top:622.5px;width:35.1px;height:15.5px;background:#ececec;border-left:1px solid #dcdcdc;box-sizing:border-box;"></div>
<div style="position:absolute;left:116.4px;top:622.5px;width:34.2px;height:15.5px;background:#ececec;border-left:1px solid #dcdcdc;box-sizing:border-box;"></div>
<div style="position:absolute;left:150.6px;top:622.5px;width:33.1px;height:15.5px;background:#fcfcfc;border-left:1px solid #dcdcdc;box-sizing:border-box;"></div>
<div style="position:absolute;left:183.7px;top:622.5px;width:19.3px;height:15.5px;background:#ececec;border-left:1px solid #dcdcdc;box-sizing:border-box;"></div>
<div style="position:absolute;left:203px;top:622.5px;width:21.3px;height:15.5px;background:#ececec;border-left:1px solid #dcdcdc;box-sizing:border-box;"></div>
<div style="position:absolute;left:224.3px;top:622.5px;width:20.6px;height:15.5px;background:#ececec;border-left:1px solid #dcdcdc;box-sizing:border-box;"></div>
<div style="position:absolute;left:244.9px;top:622.5px;width:1px;height:15.5px;background:#d8d8d8;"></div>
<div class="t" style="left:86.2px;top:626.28px;font-size:8px;line-height:11.2px;color:#666;font-weight:500;transform:scaleX(0.864);transform-origin:left center;">シート 1</div>
<div class="t" style="left:120.3px;top:626.28px;font-size:8px;line-height:11.2px;color:#666;font-weight:500;transform:scaleX(0.864);transform-origin:left center;">シート 2</div>
<div class="t" style="left:154.2px;top:626.28px;font-size:8px;line-height:11.2px;color:#444;font-weight:500;transform:scaleX(0.864);transform-origin:left center;">シート 3</div>
<svg style="position:absolute;left:190px;top:627px;" width="9" height="9" viewBox="0 0 9 9"><rect x="0.5" y="0.5" width="5.5" height="5.5" fill="none" stroke="#666" stroke-width="0.8"/><path d="M2 4.5V3M3.3 4.5V2M4.6 4.5V3.5" stroke="#666" stroke-width="0.6"/><path d="M5 7H9M7 5V9" stroke="#333" stroke-width="1.1"/></svg>
<svg style="position:absolute;left:210px;top:627px;" width="9" height="9" viewBox="0 0 9 9"><rect x="0.5" y="0.5" width="5.5" height="5.5" fill="none" stroke="#666" stroke-width="0.8"/><path d="M3.25 0.5V6M0.5 3.25H6" stroke="#666" stroke-width="0.7"/><path d="M5 7H9M7 5V9" stroke="#333" stroke-width="1.1"/></svg>
<svg style="position:absolute;left:230.5px;top:627px;" width="9" height="9" viewBox="0 0 9 9"><rect x="0.5" y="0.5" width="5.5" height="5.5" fill="none" stroke="#666" stroke-width="0.8"/><path d="M2.5 0.5V6" stroke="#666" stroke-width="0.7"/><path d="M5 7H9M7 5V9" stroke="#333" stroke-width="1.1"/></svg>
</body></html>
